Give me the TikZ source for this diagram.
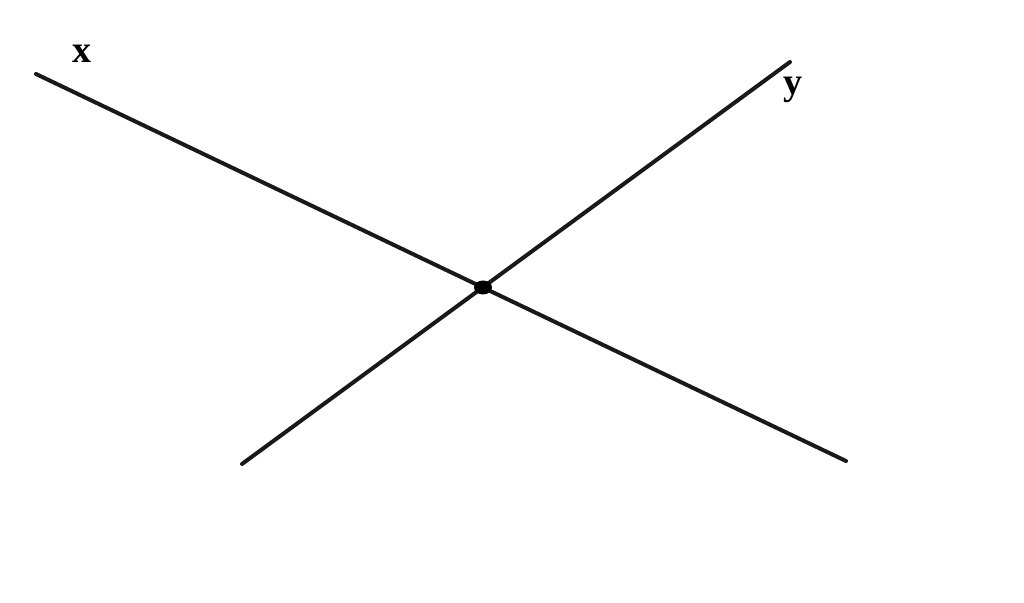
\documentclass[tikz,border=0pt]{standalone}
\usepackage{fontspec}
\setmainfont{Liberation Serif}
\begin{document}
\begin{tikzpicture}[x=0.5pt,y=-0.5pt,
  axisline/.style={line width=2pt, line cap=round, black!90},
  lbl/.style={font=\fontsize{19}{22}\selectfont\bfseries, inner sep=0pt}]
\useasboundingbox (0,0) rectangle (1024,603);
\coordinate (xa) at (36,74);
\coordinate (xb) at (846,461);
\coordinate (ya) at (242,464);
\coordinate (yb) at (790,62);
\coordinate (o) at (483,287.5);
\draw[axisline] (xa) -- (xb);
\draw[axisline] (ya) -- (yb);
\fill (o) ellipse (4.5pt and 3.5pt);
\node[lbl] (xl) at (82,54) {x};
\node[lbl] (yl) at (793,90) {y};
\end{tikzpicture}
\end{document}
